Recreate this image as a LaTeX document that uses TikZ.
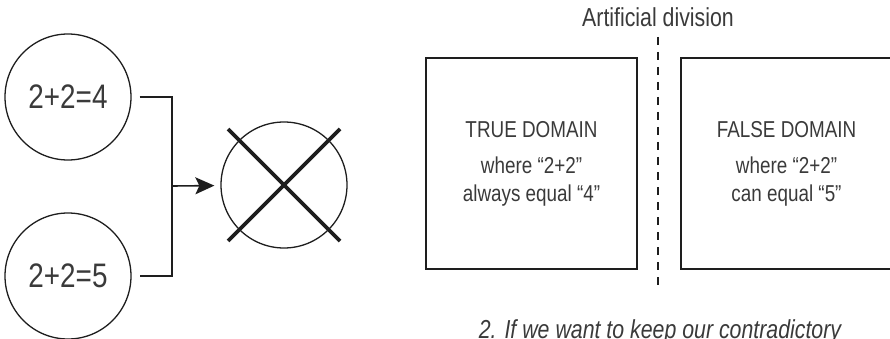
\documentclass[tikz,border=0pt]{standalone}
\usepackage{fontspec}
\setmainfont{Liberation Sans}[FakeStretch=0.82]
\usepackage{tikz}
\usetikzlibrary{arrows.meta,positioning}
\definecolor{inkgray}{HTML}{3A3A3A}
\definecolor{linegray}{HTML}{1E1E1E}
\tikzset{
  >={Stealth[length=19pt,width=17pt,inset=4pt]},
  % left part
  eq/.style={circle,draw=linegray,line width=1.3pt,minimum size=126pt,inner sep=0pt,
             text=inkgray,font=\fontsize{34}{38}\selectfont},
  link/.style={draw=linegray,line width=1.6pt},
  crossline/.style={draw=linegray,line width=3.6pt},
  % right part
  domainbox/.style={rectangle,draw=linegray,line width=1.6pt,minimum width=211pt,
                 minimum height=211pt,inner sep=0pt,align=center,text=inkgray,
                 font=\fontsize{23}{28}\selectfont},
  divider/.style={draw=linegray,line width=1.6pt,dash pattern=on 8pt off 7pt},
  caption/.style={text=inkgray,inner sep=0pt},
}
\begin{document}
\begin{tikzpicture}[x=1pt,y=-1pt]
  \clip (0,0) rectangle (890,339);
  \node[eq] (eqfour) at (68,97) {2+2=4};
  \node[eq] (eqfive) at (68,276) {2+2=5};
  \node[eq,font=\small] (cross) at (284,185) {};
  \coordinate (join) at (172,186);
  \draw[link] ([xshift=8pt]eqfour.east) -| (join) |- ([xshift=8pt]eqfive.east);
  \draw[link,->,shorten >=6pt] (join) -- (cross);
  \draw[crossline] ([shift={(-56,-56)}]cross.center) -- ([shift={(56,56)}]cross.center);
  \draw[crossline] ([shift={(-56,56)}]cross.center) -- ([shift={(56,-56)}]cross.center);
  % domains
  \node[domainbox] (truebox) at (531.5,163.5)
    {TRUE DOMAIN\\[8pt]where “2+2”\\always equal “4”};
  \node[domainbox] (falsebox) at (786.5,163.5)
    {FALSE DOMAIN\\[8pt]where “2+2”\\can equal “5”};
  \node[caption,font=\fontsize{26}{30}\selectfont] (divlabel) at (658,17) {Artificial division};
  \coordinate (divtop) at (658,37);
  \coordinate (divbot) at (658,285);
  \draw[divider] (divtop) -- (divbot);
  \node[caption,anchor=base,font=\fontsize{26}{30}\selectfont\itshape] (note) at (660,338)
    {2. If we want to keep our contradictory};
\end{tikzpicture}
\end{document}
